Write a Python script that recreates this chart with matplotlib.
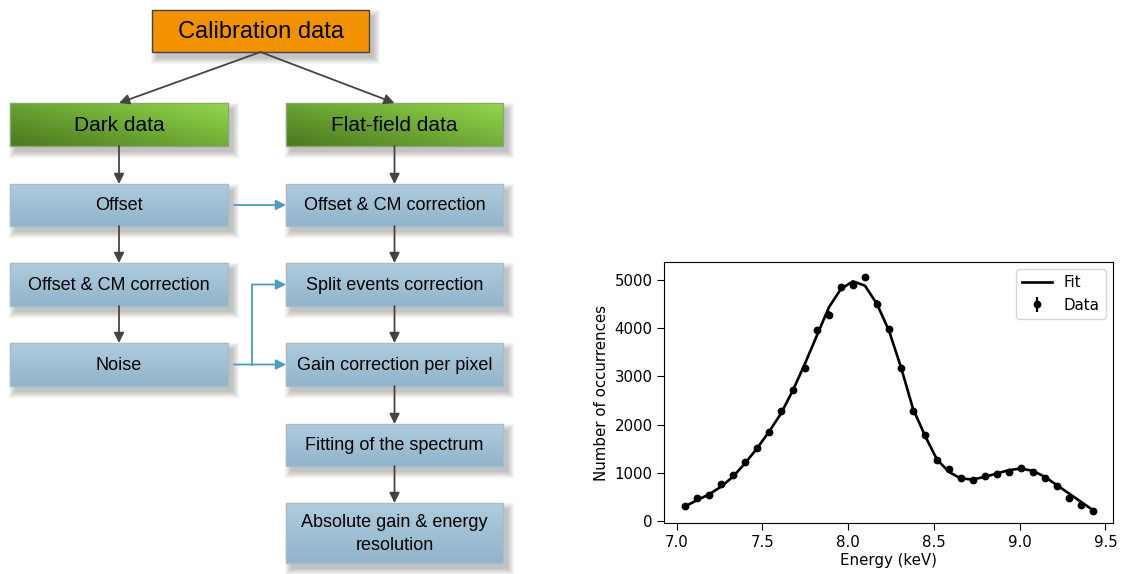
import numpy as np
import matplotlib
matplotlib.use("Agg")
import matplotlib.pyplot as plt
from matplotlib.patches import Rectangle

# spectrum
energy = [7.048, 7.120, 7.188, 7.258, 7.328, 7.398, 7.468, 7.538, 7.608, 7.678,
          7.748, 7.818, 7.888, 7.958, 8.028, 8.098, 8.168, 8.238, 8.308, 8.378,
          8.447, 8.517, 8.587, 8.657, 8.727, 8.797, 8.867, 8.937, 9.007, 9.077,
          9.147, 9.217, 9.287, 9.357, 9.427]
counts = [316, 481, 537, 758, 950, 1233, 1522, 1853, 2287, 2721,
          3175, 3953, 4277, 4849, 4890, 5055, 4504, 3973, 3175, 2287,
          1777, 1260, 1068, 882, 847, 936, 971, 1019, 1109, 1006,
          895, 729, 469, 331, 213]
fit = [300, 434, 551, 709, 916, 1191, 1501, 1846, 2224, 2707,
       3257, 3843, 4428, 4807, 4966, 4876, 4497, 3946, 3188, 2330,
       1777, 1281, 1019, 882, 861, 916, 985, 1054, 1088, 1040,
       916, 744, 572, 399, 227]

# flowchart boxes
box_labels = {
    "calib": "Calibration data",
    "dark": "Dark data",
    "flat": "Flat-field data",
    "offset": "Offset",
    "cm_left": "Offset & CM correction",
    "noise": "Noise",
    "cm_right": "Offset & CM correction",
    "split": "Split events correction",
    "gain": "Gain correction per pixel",
    "fitting": "Fitting of the spectrum",
    "absolute": "Absolute gain & energy\nresolution",
}

fig = plt.figure(figsize=(11.24, 5.74), dpi=100)

# --- flowchart, drawn in pixel coordinates ---
fl = fig.add_axes([0, 0, 1, 1])
fl.axis("off")

L = (10, 228)
R = (286, 503)
geom = {
    "calib": (152, 369, 10, 52),
    "dark": (L[0], L[1], 103, 146),
    "flat": (R[0], R[1], 103, 146),
    "offset": (L[0], L[1], 184, 226),
    "cm_left": (L[0], L[1], 263, 306),
    "noise": (L[0], L[1], 343, 386),
    "cm_right": (R[0], R[1], 184, 226),
    "split": (R[0], R[1], 263, 306),
    "gain": (R[0], R[1], 343, 386),
    "fitting": (R[0], R[1], 424, 466),
    "absolute": (R[0], R[1], 503, 563),
}


def shadow(x0, x1, y0, y1):
    for i in range(7):
        fl.add_patch(Rectangle((x0 + 5 - i, y0 + 6 - i), (x1 - x0) + 2 * i,
                               (y1 - y0) + 2 * i, facecolor="black",
                               edgecolor="none", alpha=0.035, zorder=1))


def gradient_box(x0, x1, y0, y1, kind):
    shadow(x0, x1, y0, y1)
    n = 64
    if kind == "green":
        c0 = np.array([0x4a, 0x78, 0x1e]) / 255   # bottom-left
        c1 = np.array([0x92, 0xd8, 0x4c]) / 255   # top-right
        u, v = np.meshgrid(np.linspace(0, 1, n), np.linspace(0, 1, n))
        t = np.clip(0.55 * u + 0.45 * (1 - v), 0, 1)[..., None]
        img = c0 * (1 - t) + c1 * t
        edge = "#8aa870"
    elif kind == "blue":
        c0 = np.array([0xb0, 0xcc, 0xde]) / 255   # top
        c1 = np.array([0x90, 0xb4, 0xcb]) / 255   # bottom
        t = np.linspace(0, 1, n)[:, None, None] * np.ones((1, 2, 1))
        img = c0 * (1 - t) + c1 * t
        edge = "#a6bccb"
    else:
        img = np.ones((2, 2, 3)) * np.array([0xf3, 0x92, 0x00]) / 255
        edge = "#444444"
    fl.imshow(img, extent=(x0, x1, y1, y0), aspect="auto", zorder=2,
              interpolation="bilinear")
    fl.add_patch(Rectangle((x0, y0), x1 - x0, y1 - y0, facecolor="none",
                           edgecolor=edge, lw=1.0, zorder=3))


kinds = {"calib": "orange", "dark": "green", "flat": "green"}
sizes = {"calib": 17, "dark": 15, "flat": 15}
for key, label in box_labels.items():
    x0, x1, y0, y1 = geom[key]
    gradient_box(x0, x1, y0, y1, kinds.get(key, "blue"))
    fl.text((x0 + x1) / 2, (y0 + y1) / 2 + 1, label, ha="center", va="center",
            fontsize=sizes.get(key, 13), family="Liberation Sans",
            color="black", zorder=4, linespacing=1.45)

fl.set_xlim(0, 1124)
fl.set_ylim(574, 0)

dark_arrow = dict(arrowstyle="-|>,head_length=0.6,head_width=0.3",
                  color="#444444", lw=1.3, shrinkA=0, shrinkB=0)
blue_arrow = dict(arrowstyle="-|>,head_length=0.6,head_width=0.3",
                  color="#4a9cc0", lw=1.3, shrinkA=0, shrinkB=0)


def center_x(key):
    return (geom[key][0] + geom[key][1]) / 2


def ymid(key):
    return (geom[key][2] + geom[key][3]) / 2


def arrow(a, b, style):
    fl.annotate("", xy=b, xytext=a, arrowprops=style, zorder=5)


# calibration split
arrow((center_x("calib"), 52), (center_x("dark"), 103), dark_arrow)
arrow((center_x("calib"), 52), (center_x("flat"), 103), dark_arrow)

# vertical chains
for col in (["dark", "offset", "cm_left", "noise"],
            ["flat", "cm_right", "split", "gain", "fitting", "absolute"]):
    for a, b in zip(col[:-1], col[1:]):
        arrow((center_x(a), geom[a][3]), (center_x(b), geom[b][2]), dark_arrow)

# cross links
arrow((234, ymid("offset")), (R[0], ymid("offset")), blue_arrow)
arrow((234, ymid("noise")), (R[0], ymid("noise")), blue_arrow)
fl.plot([252, 252], [ymid("noise"), ymid("split")], color="#4a9cc0", lw=1.3,
        zorder=5)
arrow((252, ymid("split")), (R[0], ymid("split")), blue_arrow)

# --- spectrum plot ---
ax = fig.add_axes([0.5911, 0.0882, 0.3994, 0.4559])
ax.plot(energy, fit, color="black", lw=1.9, label="Fit")
ax.errorbar(energy, counts, yerr=np.sqrt(counts), fmt="o", color="black",
            markersize=4.6, elinewidth=1.6, label="Data")
ax.set_xticks([7.0, 7.5, 8.0, 8.5, 9.0, 9.5])
ax.set_yticks([0, 1000, 2000, 3000, 4000, 5000])
ax.tick_params(labelsize=10.8, length=5)
ax.set_xlabel("Energy (keV)", fontsize=10.8, labelpad=2)
ax.set_ylabel("Number of occurrences", fontsize=10.8)
ax.legend(loc="upper right", fontsize=10.8)

fig.savefig("out.png", dpi=100)
